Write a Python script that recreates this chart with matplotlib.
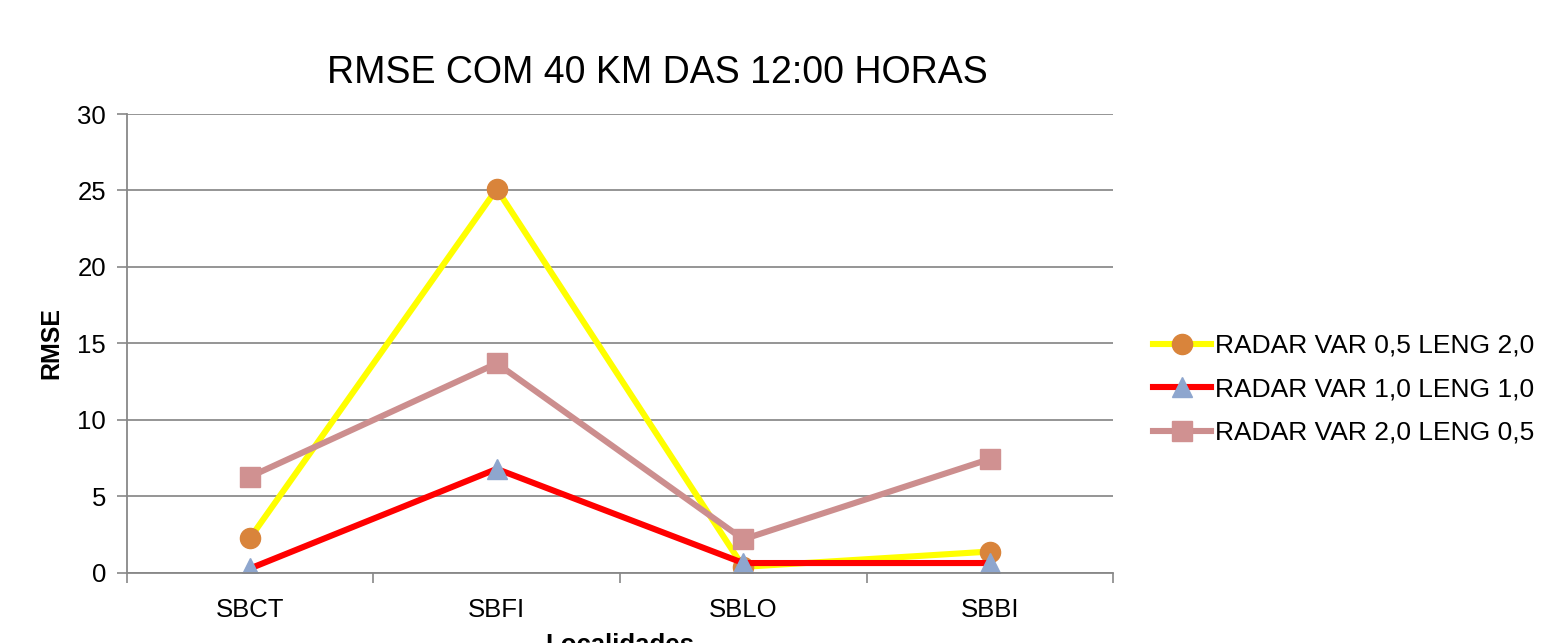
import numpy as np
import matplotlib
matplotlib.use("Agg")
from matplotlib import pyplot as plt

plt.rcParams['font.family'] = ['Liberation Sans', 'DejaVu Sans']

locais = ['SBCT', 'SBFI', 'SBLO', 'SBBI']
var05_leng20 = [2.3, 25.1, 0.4, 1.4]
var10_leng10 = [0.3, 6.8, 0.65, 0.65]
var20_leng05 = [6.3, 13.7, 2.2, 7.45]

series = [
    ('RADAR VAR 0,5 LENG 2,0', var05_leng20, '#FFFF00', 'o', '#D9843B'),
    ('RADAR VAR 1,0 LENG 1,0', var10_leng10, '#FF0000', '^', '#8EA6CE'),
    ('RADAR VAR 2,0 LENG 0,5', var20_leng05, '#CC8E8E', 's', '#D09191'),
]

fig = plt.figure(figsize=(15.41, 6.43), dpi=100)
ax = fig.add_axes([0.0824, 0.1089, 0.6399, 0.7138])

x = np.arange(len(locais))
for label, vals, lc, mk, mc in series:
    ax.plot(x, vals, color=lc, lw=4.4, marker=mk, markersize=14.5,
            markerfacecolor=mc, markeredgecolor=mc, label=label,
            solid_joinstyle='round')

ax.set_xlim(-0.5, len(locais) - 0.5)
ax.set_ylim(0, 30)
ax.set_yticks(range(0, 31, 5))
ax.set_xticks(x)
ax.set_xticklabels(locais)
ax.set_xticks(np.arange(-0.5, len(locais)), minor=True)
ax.tick_params(axis='x', which='major', length=0, pad=18, labelsize=18.5)
ax.tick_params(axis='x', which='minor', length=7, color='#888888', width=1.2)
ax.tick_params(axis='y', length=7, color='#888888', width=1.2, labelsize=18.5, pad=8)

ax.grid(axis='y', color='#8C8C8C', lw=1.3)
ax.set_axisbelow(True)
for side in ['top', 'right']:
    ax.spines[side].set_visible(False)
for side in ['left', 'bottom']:
    ax.spines[side].set_color('#888888')
    ax.spines[side].set_linewidth(1.3)

ax.set_title('RMSE COM 40 KM DAS 12:00 HORAS', fontsize=27, pad=22, x=0.5375)
ax.set_ylabel('RMSE', fontsize=18, fontweight='bold', labelpad=10)
ax.set_xlabel('Localidades', fontsize=18.5, fontweight='bold', labelpad=8)

ax.legend(loc='center left', bbox_to_anchor=(1.016, 0.40), frameon=False,
          fontsize=19, handlelength=2.2, handletextpad=0.15, labelspacing=0.74)

fig.savefig('out.png', dpi=100)
